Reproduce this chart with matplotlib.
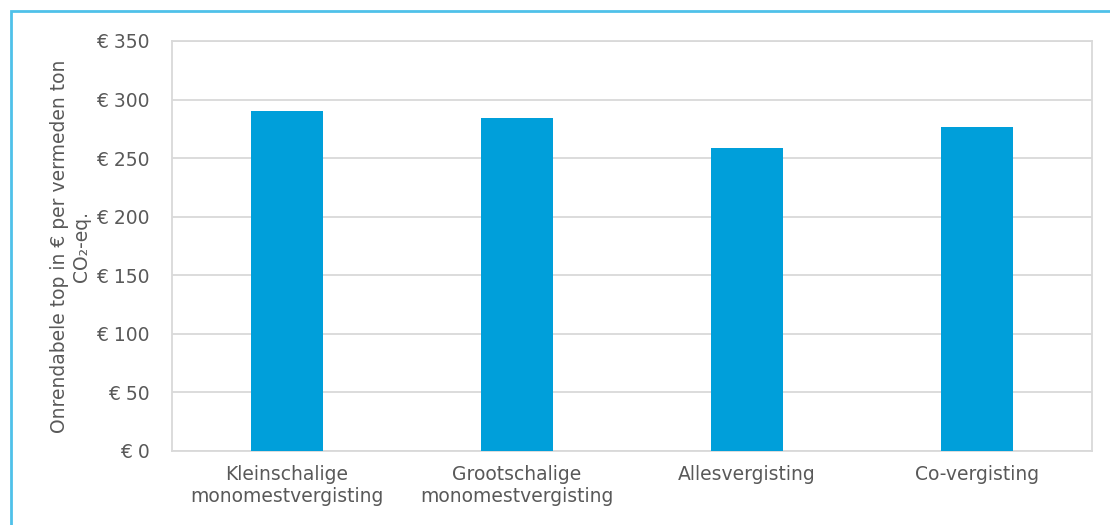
import matplotlib.pyplot as plt
from matplotlib.patches import Rectangle
from matplotlib.ticker import FuncFormatter

categories = ["Kleinschalige\nmonomestvergisting", "Grootschalige\nmonomestvergisting",
              "Allesvergisting", "Co-vergisting"]
values = [290, 284, 259, 277]
yticks = [0, 50, 100, 150, 200, 250, 300, 350]

plt.rcParams['font.family'] = ['DejaVu Sans']
grey = "#595959"
line = "#d9d9d9"

fig = plt.figure(figsize=(11.1, 5.25), dpi=100)
ax = fig.add_axes([172 / 1110, 1 - 451 / 525, 920 / 1110, 410 / 525])

x = range(len(categories))
ax.bar(x, values, width=0.31, color="#009fda", zorder=3)

ax.set_xlim(-0.5, len(categories) - 0.5)
ax.set_ylim(0, 350)
ax.set_yticks(yticks)
ax.yaxis.set_major_formatter(FuncFormatter(lambda v, p: f"€ {v:.0f}"))
ax.set_xticks(list(x))
ax.set_xticklabels(categories)
ax.grid(axis="y", color=line, linewidth=1.3, zorder=0)
for s in ax.spines.values():
    s.set_color(line)
    s.set_linewidth(1.3)
ax.tick_params(length=0, labelsize=13.5, colors=grey, pad=10)
ax.tick_params(axis="y", pad=16)
ax.set_ylabel("Onrendabele top in € per vermeden ton\nCO₂-eq.", fontsize=13.5,
              color=grey, labelpad=4, linespacing=1.15)

fig.patches.append(Rectangle((11 / 1110, -0.01), 1.0, 1 - 11 / 525 + 0.01,
                             transform=fig.transFigure, fill=False,
                             edgecolor="#4fc1e9", linewidth=2))

plt.savefig("out.png", dpi=100)
